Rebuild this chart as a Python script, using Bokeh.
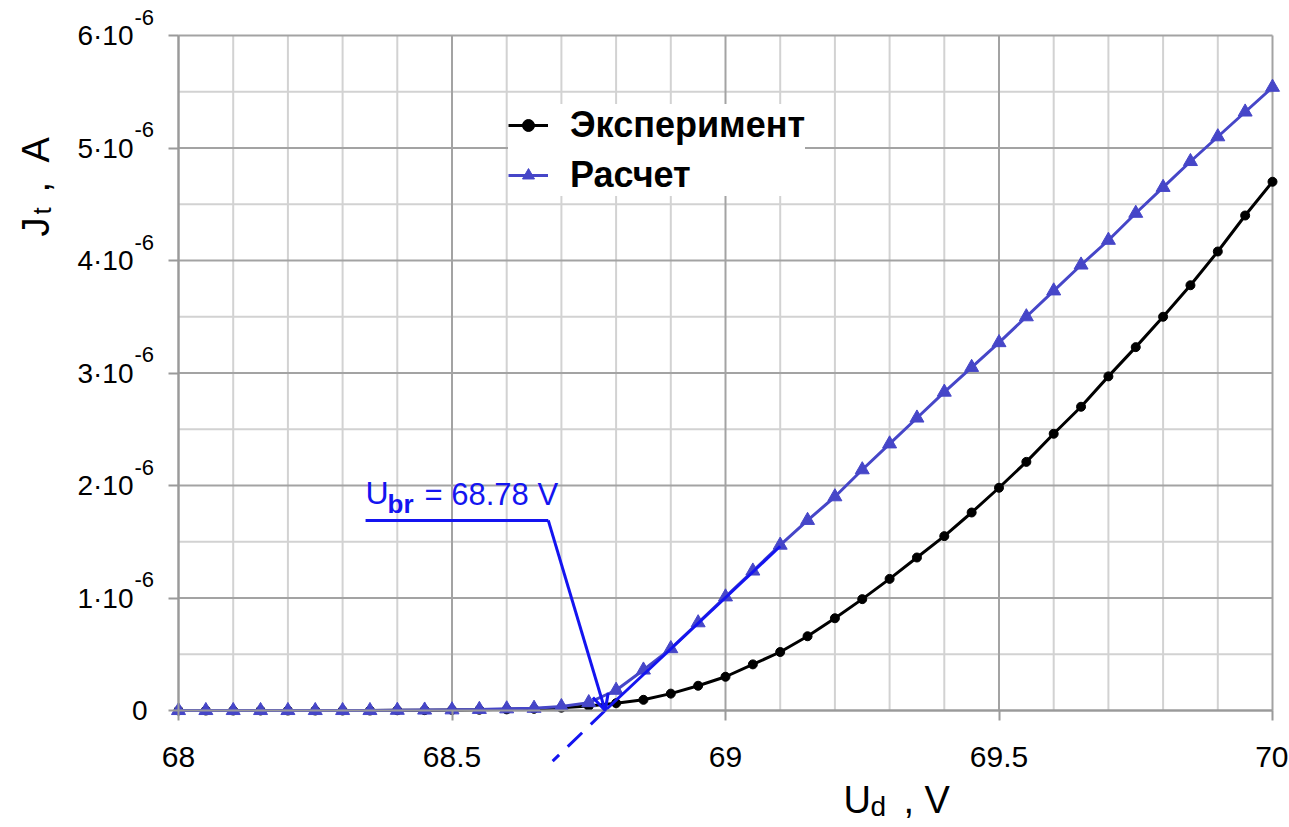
import math
from bokeh.plotting import figure
from bokeh.models import (Range1d, FixedTicker, Label, Arrow, OpenHead,
                          Legend, LegendItem)
from bokeh.embed import file_html
from bokeh.resources import INLINE

# ---------------- data ----------------
# U_d, V
u_d = [68.00, 68.05, 68.10, 68.15, 68.20, 68.25, 68.30, 68.35, 68.40, 68.45,
       68.50, 68.55, 68.60, 68.65, 68.70, 68.75, 68.80, 68.85, 68.90, 68.95,
       69.00, 69.05, 69.10, 69.15, 69.20, 69.25, 69.30, 69.35, 69.40, 69.45,
       69.50, 69.55, 69.60, 69.65, 69.70, 69.75, 69.80, 69.85, 69.90, 69.95,
       70.00]
# J_t in units of 1e-6 A  -- "Эксперимент"
jt_exp = [0.0, 0.0, 0.0, 0.0, 0.0, 0.0, 0.0, 0.0, 0.002, 0.003,
          0.005, 0.007, 0.010, 0.015, 0.025, 0.040, 0.065, 0.095, 0.15, 0.22,
          0.30, 0.41, 0.52, 0.66, 0.82, 0.99, 1.17, 1.36, 1.55, 1.76,
          1.98, 2.21, 2.46, 2.70, 2.97, 3.23, 3.50, 3.78, 4.08, 4.40,
          4.70]
# J_t in units of 1e-6 A  -- "Расчет"
jt_calc = [0.0, 0.0, 0.0, 0.0, 0.0, 0.0, 0.0, 0.0, 0.002, 0.004,
           0.006, 0.010, 0.015, 0.020, 0.035, 0.07, 0.18, 0.36, 0.55, 0.78,
           1.01, 1.24, 1.47, 1.69, 1.90, 2.14, 2.37, 2.60, 2.83, 3.05,
           3.27, 3.50, 3.73, 3.96, 4.18, 4.42, 4.65, 4.88, 5.10, 5.32,
           5.54]
series_names = ["Эксперимент", "Расчет"]

x_ticks = [68, 68.5, 69, 69.5, 70]
x_tick_labels = ["68", "68.5", "69", "69.5", "70"]
x_minor = [68.1, 68.2, 68.3, 68.4, 68.6, 68.7, 68.8, 68.9, 69.1, 69.2,
           69.3, 69.4, 69.6, 69.7, 69.8, 69.9]
y_ticks = [0, 1, 2, 3, 4, 5, 6]
y_tick_main = ["0", "1·10", "2·10", "3·10", "4·10", "5·10", "6·10"]
y_tick_exp = ["", "-6", "-6", "-6", "-6", "-6", "-6"]
y_minor = [0.5, 1.5, 2.5, 3.5, 4.5, 5.5]
X_MIN, X_MAX, Y_MIN, Y_MAX = 68, 70, 0, 6

# breakdown voltage annotation
u_br = 68.78
fit_x = [68.78, 69.10]          # linear extrapolation of the calculated curve
fit_y = [0.0, 1.46]
ext_x = [68.78, 68.684]         # dashed extension below the axis
ext_y = [0.0, -0.45]
callout_x = [68.342, 68.676]
callout_y = [1.69, 1.69]

# ---------------- layout (pixels) ----------------
W, H = 1288, 826
PX_L, PX_R, PX_T, PX_B = 178, 1272, 35, 710      # plot-area edges on the page
kx = (PX_R - PX_L) / (X_MAX - X_MIN)
ky = (PX_B - PX_T) / (Y_MAX - Y_MIN)

FONT = "Liberation Sans"
BLUE_CURVE = "#4646c8"
BLUE_ANN = "#1414f0"
GRID_MAJOR = "#a3a3a3"
GRID_MINOR = "#d2d2d2"
AXIS_GRAY = "#9a9a9a"

p = figure(width=W, height=H, output_backend="svg", toolbar_location=None,
           title=None,
           x_range=Range1d(X_MIN - PX_L / kx, X_MAX + (W - PX_R) / kx),
           y_range=Range1d(Y_MIN - (H - PX_B) / ky, Y_MAX + PX_T / ky),
           min_border=0, min_border_left=0, min_border_right=0,
           min_border_top=0, min_border_bottom=0)
p.background_fill_color = "white"
p.border_fill_color = "white"
p.outline_line_color = None
p.grid.visible = False

# axes fixed at the plot-area edges
p.xaxis.fixed_location = Y_MIN
p.yaxis.fixed_location = X_MIN
p.xaxis.bounds = (X_MIN, X_MAX)
p.yaxis.bounds = (Y_MIN, Y_MAX)
p.xaxis.ticker = FixedTicker(ticks=x_ticks, minor_ticks=x_minor)
p.yaxis.ticker = FixedTicker(ticks=y_ticks, minor_ticks=y_minor)
p.xaxis.major_label_overrides = dict(zip(x_ticks, x_tick_labels))
p.yaxis.major_label_overrides = {t: " " for t in y_ticks}
for ax in (p.xaxis, p.yaxis):
    ax.axis_line_color = AXIS_GRAY
    ax.axis_line_width = 2
    ax.major_tick_line_color = AXIS_GRAY
    ax.major_tick_line_width = 2
    ax.major_tick_out = 10
    ax.major_tick_in = 0
    ax.minor_tick_line_color = None
    ax.major_label_text_font = FONT
    ax.major_label_text_font_size = "30px"
    ax.major_label_text_color = "black"
p.xaxis.major_label_standoff = 26

# grid lines of the plot area
p.segment(x0=x_minor, y0=[Y_MIN] * len(x_minor), x1=x_minor, y1=[Y_MAX] * len(x_minor),
          line_color=GRID_MINOR, line_width=2)
p.segment(x0=[X_MIN] * len(y_minor), y0=y_minor, x1=[X_MAX] * len(y_minor), y1=y_minor,
          line_color=GRID_MINOR, line_width=2)
p.segment(x0=x_ticks, y0=[Y_MIN] * len(x_ticks), x1=x_ticks, y1=[Y_MAX] * len(x_ticks),
          line_color=GRID_MAJOR, line_width=2)
p.segment(x0=[X_MIN] * len(y_ticks), y0=y_ticks, x1=[X_MAX] * len(y_ticks), y1=y_ticks,
          line_color=GRID_MAJOR, line_width=2)

# series
l_exp = p.line(u_d, jt_exp, line_color="black", line_width=3)
s_exp = p.scatter(u_d, jt_exp, marker="circle", size=9, color="black")
l_calc = p.line(u_d, jt_calc, line_color=BLUE_CURVE, line_width=3)
s_calc = p.scatter(u_d, jt_calc, marker="triangle", size=14, color=BLUE_CURVE)

# breakdown annotation
p.line(fit_x, fit_y, line_color=BLUE_ANN, line_width=3)
p.line(ext_x, ext_y, line_color=BLUE_ANN, line_width=3, line_dash="20 12")
p.line(callout_x, callout_y, line_color=BLUE_ANN, line_width=3)
p.add_layout(Arrow(x_start=callout_x[1], y_start=callout_y[1], x_end=u_br, y_end=0.0,
                   line_color=BLUE_ANN, line_width=3,
                   end=OpenHead(size=16, line_color=BLUE_ANN, line_width=3)))

BASE_FIX = 0.34   # baseline correction (fraction of font size) for Label text


def lab(text, dx, dy, size, color="black", style="normal", angle=0.0,
        align="left", x=X_MIN, y=Y_MIN):
    c = BASE_FIX * size
    dx += -math.sin(angle) * c
    dy += math.cos(angle) * c
    p.add_layout(Label(x=x, y=y, x_offset=dx, y_offset=dy, text=text,
                       text_font=FONT, text_font_size=f"{size}px", text_color=color,
                       text_font_style=style, angle=angle,
                       text_align=align, text_baseline="alphabetic"))


# y tick labels with raised exponent
for t, main, ex in zip(y_ticks, y_tick_main, y_tick_exp):
    if ex:
        lab(main, -45, -10, 28, align="right", y=t)
        lab(ex, -44, 11, 22, align="left", y=t)
    else:
        lab(main, -31, -10, 28, align="right", y=t)

lab("U", 187, 207, 32, BLUE_ANN)
lab("br", 209, 198, 26, BLUE_ANN, "bold")
lab("= 68.78 V", 246, 205, 31, BLUE_ANN)

# axis titles
lab("U", 665, -102, 38)
lab("d", 692, -106, 28)
lab(", V", 725, -102, 38)
lab("J", -130, 474, 38, angle=math.pi / 2)
lab("t", -128, 496, 26, angle=math.pi / 2)
lab(",", -130, 518, 38, angle=math.pi / 2)
lab("A", -130, 548, 38, angle=math.pi / 2)

legend = Legend(items=[LegendItem(label=series_names[0], renderers=[l_exp, s_exp]),
                       LegendItem(label=series_names[1], renderers=[l_calc, s_calc])],
                location=(508, H - 196), padding=6, spacing=8, margin=0,
                glyph_width=40, glyph_height=30, label_standoff=22,
                label_text_font=FONT, label_text_font_size="36px",
                label_text_font_style="bold", label_text_color="black",
                border_line_color=None,
                background_fill_color="white", background_fill_alpha=1.0)
p.add_layout(legend)

open("out.html", "w").write(file_html(p, INLINE))
